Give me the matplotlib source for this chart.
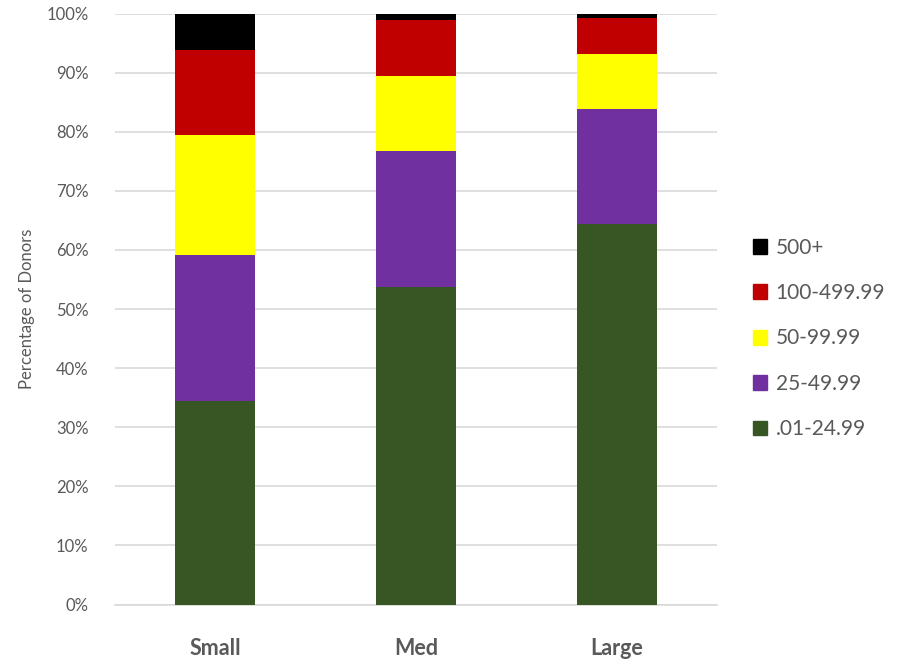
import numpy as np
import matplotlib.pyplot as plt
from matplotlib.ticker import PercentFormatter
from matplotlib.patches import Patch

plt.rcParams['font.family'] = ['Lato', 'DejaVu Sans']

# 数据
categories = ['Small', 'Med', 'Large']
labels = ['.01-24.99', '25-49.99', '50-99.99', '100-499.99', '500+']
colors = ['#375623', '#7030A0', '#FFFF00', '#C00000', '#000000']
v_001_2499 = [34.4, 53.7, 64.3]
v_25_4999 = [24.7, 23.1, 19.5]
v_50_9999 = [20.4, 12.6, 9.3]
v_100_49999 = [14.4, 9.5, 6.1]
v_500p = [6.1, 1.1, 0.8]
series = [v_001_2499, v_25_4999, v_50_9999, v_100_49999, v_500p]

grey = '#595959'
fig = plt.figure(figsize=(9.01, 6.61), dpi=100)
ax = fig.add_axes([115/901, 56.5/661, 602/901, 591/661])

x = np.arange(len(categories))
bottom = np.zeros(len(categories))
for vals, c, lab in zip(series, colors, labels):
    ax.bar(x, vals, 0.4, bottom=bottom, color=c, label=lab, zorder=3)
    bottom += np.array(vals)

ax.set_xlim(-0.5, 2.5)
ax.set_ylim(0, 100)
ax.set_yticks(range(0, 101, 10))
ax.yaxis.set_major_formatter(PercentFormatter(decimals=0))
ax.grid(axis='y', color='#D9D9D9', linewidth=1.2, zorder=0)
ax.set_xticks(x)
ax.set_xticklabels(categories, fontsize=15.5, fontweight='bold', color=grey)
ax.tick_params(axis='y', labelsize=12, colors=grey, length=0, pad=19)
ax.tick_params(axis='x', length=0, pad=24)
for s in ['top', 'right', 'left']:
    ax.spines[s].set_visible(False)
ax.spines['bottom'].set_color('#D9D9D9')
ax.spines['bottom'].set_linewidth(1.2)
ax.set_ylabel('Percentage of Donors', fontsize=12, color=grey, labelpad=8)

handles = [Patch(color=c, label=l) for c, l in zip(colors, labels)][::-1]
leg = fig.legend(handles=handles, loc='center left', bbox_to_anchor=(734/901, 1 - 338.5/661),
                 frameon=False, fontsize=15, labelcolor=grey, handlelength=0.7,
                 handleheight=0.7, handletextpad=0.4, labelspacing=1.22)

plt.savefig('out.png', dpi=100)
